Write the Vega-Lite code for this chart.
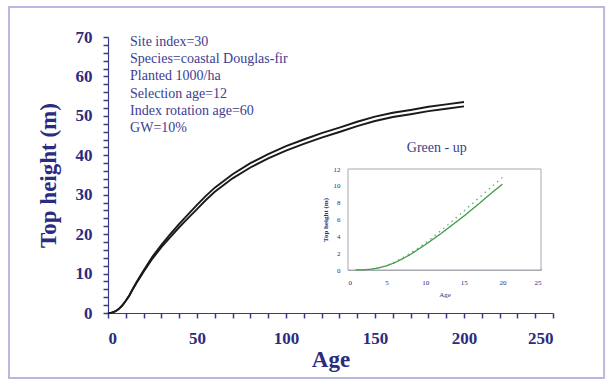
{
  "$schema": "https://vega.github.io/schema/vega-lite/v6.json",
  "width": 445,
  "height": 276,
  "autosize": {"type": "none"},
  "padding": {"left": 108, "top": 37, "right": 60, "bottom": 71},
  "background": "white",
  "config": {
    "view": {"stroke": null},
    "font": "Liberation Serif",
    "axis": {"grid": false, "labelOverlap": false, "labelBound": false, "format": "d"}
  },
  "datasets": {
    "main": [
      {"series": "upper", "age": 0, "height": 0},
      {"series": "upper", "age": 2, "height": 0.1},
      {"series": "upper", "age": 4, "height": 0.4},
      {"series": "upper", "age": 6, "height": 1.0},
      {"series": "upper", "age": 8, "height": 1.9},
      {"series": "upper", "age": 10, "height": 3.1},
      {"series": "upper", "age": 12, "height": 4.5},
      {"series": "upper", "age": 14, "height": 6.2},
      {"series": "upper", "age": 16, "height": 7.8},
      {"series": "upper", "age": 18, "height": 9.3},
      {"series": "upper", "age": 20, "height": 10.8},
      {"series": "upper", "age": 25, "height": 14.3},
      {"series": "upper", "age": 30, "height": 17.3},
      {"series": "upper", "age": 35, "height": 20.0},
      {"series": "upper", "age": 40, "height": 22.6},
      {"series": "upper", "age": 45, "height": 25.0},
      {"series": "upper", "age": 50, "height": 27.4},
      {"series": "upper", "age": 55, "height": 29.7},
      {"series": "upper", "age": 60, "height": 31.8},
      {"series": "upper", "age": 70, "height": 35.2},
      {"series": "upper", "age": 80, "height": 38.0},
      {"series": "upper", "age": 90, "height": 40.3},
      {"series": "upper", "age": 100, "height": 42.3},
      {"series": "upper", "age": 110, "height": 44.0},
      {"series": "upper", "age": 120, "height": 45.6},
      {"series": "upper", "age": 130, "height": 47.0},
      {"series": "upper", "age": 140, "height": 48.5},
      {"series": "upper", "age": 150, "height": 49.8},
      {"series": "upper", "age": 160, "height": 50.8},
      {"series": "upper", "age": 170, "height": 51.5},
      {"series": "upper", "age": 180, "height": 52.3},
      {"series": "upper", "age": 190, "height": 52.9},
      {"series": "upper", "age": 200, "height": 53.5},
      {"series": "lower", "age": 0, "height": 0},
      {"series": "lower", "age": 2, "height": 0.1},
      {"series": "lower", "age": 4, "height": 0.4},
      {"series": "lower", "age": 6, "height": 1.0},
      {"series": "lower", "age": 8, "height": 1.9},
      {"series": "lower", "age": 10, "height": 3.1},
      {"series": "lower", "age": 12, "height": 4.4},
      {"series": "lower", "age": 14, "height": 6.05},
      {"series": "lower", "age": 16, "height": 7.6},
      {"series": "lower", "age": 18, "height": 9.0},
      {"series": "lower", "age": 20, "height": 10.45},
      {"series": "lower", "age": 25, "height": 13.8},
      {"series": "lower", "age": 30, "height": 16.7},
      {"series": "lower", "age": 35, "height": 19.25},
      {"series": "lower", "age": 40, "height": 21.75},
      {"series": "lower", "age": 45, "height": 24.05},
      {"series": "lower", "age": 50, "height": 26.35},
      {"series": "lower", "age": 55, "height": 28.65},
      {"series": "lower", "age": 60, "height": 30.75},
      {"series": "lower", "age": 70, "height": 34.15},
      {"series": "lower", "age": 80, "height": 36.9},
      {"series": "lower", "age": 90, "height": 39.2},
      {"series": "lower", "age": 100, "height": 41.2},
      {"series": "lower", "age": 110, "height": 42.9},
      {"series": "lower", "age": 120, "height": 44.5},
      {"series": "lower", "age": 130, "height": 45.9},
      {"series": "lower", "age": 140, "height": 47.4},
      {"series": "lower", "age": 150, "height": 48.7},
      {"series": "lower", "age": 160, "height": 49.7},
      {"series": "lower", "age": 170, "height": 50.4},
      {"series": "lower", "age": 180, "height": 51.2},
      {"series": "lower", "age": 190, "height": 51.8},
      {"series": "lower", "age": 200, "height": 52.4}
    ],
    "inset": [
      {"series": "solid", "age": 1, "height": 0},
      {"series": "solid", "age": 2, "height": 0.02},
      {"series": "solid", "age": 3, "height": 0.1},
      {"series": "solid", "age": 4, "height": 0.25},
      {"series": "solid", "age": 5, "height": 0.5},
      {"series": "solid", "age": 6, "height": 0.85},
      {"series": "solid", "age": 7, "height": 1.3},
      {"series": "solid", "age": 8, "height": 1.8},
      {"series": "solid", "age": 9, "height": 2.4},
      {"series": "solid", "age": 10, "height": 3.0},
      {"series": "solid", "age": 11, "height": 3.65},
      {"series": "solid", "age": 12, "height": 4.3},
      {"series": "solid", "age": 13, "height": 5.0},
      {"series": "solid", "age": 14, "height": 5.7},
      {"series": "solid", "age": 15, "height": 6.4},
      {"series": "solid", "age": 16, "height": 7.15},
      {"series": "solid", "age": 17, "height": 7.9},
      {"series": "solid", "age": 18, "height": 8.7},
      {"series": "solid", "age": 19, "height": 9.45},
      {"series": "solid", "age": 20, "height": 10.2},
      {"series": "dotted", "age": 1, "height": 0},
      {"series": "dotted", "age": 2, "height": 0.02},
      {"series": "dotted", "age": 3, "height": 0.1},
      {"series": "dotted", "age": 4, "height": 0.27},
      {"series": "dotted", "age": 5, "height": 0.55},
      {"series": "dotted", "age": 6, "height": 0.95},
      {"series": "dotted", "age": 7, "height": 1.4},
      {"series": "dotted", "age": 8, "height": 1.95},
      {"series": "dotted", "age": 9, "height": 2.55},
      {"series": "dotted", "age": 10, "height": 3.2},
      {"series": "dotted", "age": 11, "height": 3.9},
      {"series": "dotted", "age": 12, "height": 4.65},
      {"series": "dotted", "age": 13, "height": 5.4},
      {"series": "dotted", "age": 14, "height": 6.2},
      {"series": "dotted", "age": 15, "height": 7.0},
      {"series": "dotted", "age": 16, "height": 7.8},
      {"series": "dotted", "age": 17, "height": 8.6},
      {"series": "dotted", "age": 18, "height": 9.4},
      {"series": "dotted", "age": 19, "height": 10.2},
      {"series": "dotted", "age": 20, "height": 11.0}
    ],
    "one": [{}]
  },
  "layer": [
    {
      "layer": [
        {
          "data": {"name": "one"},
          "mark": {"type": "rect", "fill": null, "stroke": "#b8b8e0", "strokeWidth": 2, "clip": false},
          "encoding": {
            "x": {"datum": -55.6, "type": "quantitative"},
            "x2": {"datum": 278.7},
            "y": {"datum": 77.6, "type": "quantitative"},
            "y2": {"datum": -16.5}
          }
        },
        {
          "data": {"name": "main"},
          "mark": {"type": "line", "color": "#1a1a1a", "strokeWidth": 1.9},
          "encoding": {
            "x": {
              "field": "age", "type": "quantitative",
              "scale": {"domain": [0, 250], "nice": false},
              "axis": {
                "title": "Age",
                "titleFont": "Liberation Serif", "titleFontSize": 23, "titleFontWeight": "bold",
                "titleColor": "#2b2b80", "titlePadding": 2,
                "values": [0,10,20,30,40,50,60,70,80,90,100,110,120,130,140,150,160,170,180,190,200,210,220,230,240,250],
                "tickCount": 200, "format": "d",
                "labelExpr": "datum.value % 50 === 0 ? datum.label : ''",
                "labelFont": "Liberation Serif", "labelFontSize": 17, "labelFontWeight": "bold",
                "labelColor": "#2b2b80", "labelPadding": 12,
                "domainColor": "#3a3a8a", "domainWidth": 1.2,
                "ticks": true,
                "tickColor": "#3a3a8a", "tickWidth": 1.5, "tickOpacity": 1,
                "tickSize": 5
              }
            },
            "y": {
              "field": "height", "type": "quantitative",
              "scale": {"domain": [0, 70], "nice": false},
              "axis": {
                "title": "Top height (m)",
                "titleFont": "Liberation Serif", "titleFontSize": 23, "titleFontWeight": "bold",
                "titleColor": "#2b2b80", "titlePadding": 15,
                "values": [0,2,4,6,8,10,12,14,16,18,20,22,24,26,28,30,32,34,36,38,40,42,44,46,48,50,52,54,56,58,60,62,64,66,68,70],
                "tickCount": 200, "format": "d",
                "labelExpr": "datum.value % 10 === 0 ? datum.label : ''",
                "labelFont": "Liberation Serif", "labelFontSize": 17, "labelFontWeight": "bold",
                "labelColor": "#2b2b80", "labelPadding": 11,
                "domainColor": "#3a3a8a", "domainWidth": 1.2,
                "ticks": true,
                "tickColor": "#3a3a8a", "tickWidth": 1.5, "tickOpacity": 1,
                "tickSize": 5
              }
            },
            "detail": {"field": "series"}
          }
        },
        {
          "data": {"name": "one"},
          "mark": {
            "type": "text",
            "text": ["Site index=30", "Species=coastal Douglas-fir", "Planted 1000/ha", "Selection age=12", "Index rotation age=60", "GW=10%"],
            "align": "left", "baseline": "top", "lineHeight": 17.2, "dy": -2,
            "font": "Liberation Serif", "fontSize": 14, "color": "#3d3d90"
          },
          "encoding": {
            "x": {"datum": 12.4, "type": "quantitative"},
            "y": {"datum": 70, "type": "quantitative"}
          }
        }
      ]
    },
    {
      "layer": [
        {
          "data": {"name": "one"},
          "mark": {"type": "rect", "fill": "white", "stroke": "#a8a8b0", "strokeWidth": 1},
          "encoding": {
            "x": {"datum": 0, "type": "quantitative"},
            "x2": {"datum": 25},
            "y": {"datum": 0, "type": "quantitative"},
            "y2": {"datum": 12}
          }
        },
        {
          "data": {"name": "inset"},
          "mark": {"type": "line", "strokeWidth": 1.3},
          "encoding": {
            "x": {
              "field": "age", "type": "quantitative",
              "scale": {"domain": [0, 25], "nice": false, "range": [240, 433]},
              "axis": {
                "orient": "bottom", "offset": -43,
                "title": "Age",
                "titleFont": "Liberation Serif", "titleFontSize": 7, "titleFontWeight": "normal",
                "titleColor": "#2b2b80", "titlePadding": 5,
                "values": [0,1,2,3,4,5,6,7,8,9,10,11,12,13,14,15,16,17,18,19,20,21,22,23,24,25],
                "tickCount": 200, "format": "d",
                "labelExpr": "datum.value % 5 === 0 ? datum.label : ''",
                "labelFont": "Liberation Serif", "labelFontSize": 7,
                "labelColor": "#2b2b80", "labelPadding": 10,
                "domainColor": "#a8a8b0", "tickColor": "#9a9ab0", "tickSize": -2
              }
            },
            "y": {
              "field": "height", "type": "quantitative",
              "scale": {"domain": [0, 12], "nice": false, "range": [233, 132]},
              "axis": {
                "orient": "left", "offset": -240,
                "title": "Top height (m)",
                "titleFont": "Liberation Serif", "titleFontSize": 7, "titleFontWeight": "bold",
                "titleColor": "#2b2b80", "titlePadding": 5,
                "values": [0,2,4,6,8,10,12],
                "tickCount": 200, "format": "d",
                "labelFont": "Liberation Serif", "labelFontSize": 7,
                "labelColor": "#2b2b80", "labelPadding": 10,
                "domainColor": "#a8a8b0", "tickColor": "#9a9ab0", "tickSize": -2
              }
            },
            "color": {
              "field": "series", "type": "nominal",
              "scale": {"domain": ["solid", "dotted"], "range": ["#3f9a46", "#6aaa70"]},
              "legend": null
            },
            "strokeDash": {
              "field": "series", "type": "nominal",
              "scale": {"domain": ["solid", "dotted"], "range": [[1, 0], [1.5, 4]]},
              "legend": null
            }
          }
        },
        {
          "data": {"name": "one"},
          "mark": {
            "type": "text", "text": "Green - up",
            "align": "center", "baseline": "middle",
            "font": "Liberation Serif", "fontSize": 14, "color": "#3d3d90"
          },
          "encoding": {
            "x": {"datum": 11.5, "type": "quantitative"},
            "y": {"datum": 14.5, "type": "quantitative"}
          }
        }
      ]
    }
  ],
  "resolve": {
    "scale": {"x": "independent", "y": "independent"},
    "axis": {"x": "independent", "y": "independent"}
  }
}
